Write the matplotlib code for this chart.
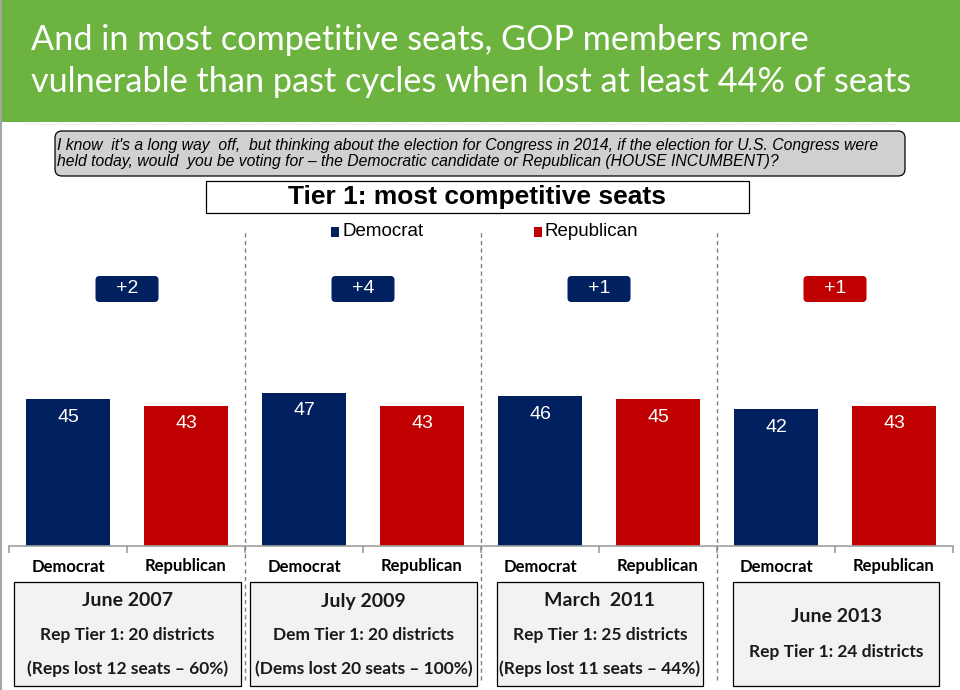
import matplotlib
matplotlib.use("Agg")
import matplotlib.pyplot as plt
from matplotlib.patches import FancyBboxPatch, Rectangle
from matplotlib import transforms
from matplotlib import font_manager as fm

# ---------------- data ----------------
periods = ["June 2007", "July 2009", "March 2011", "June 2013"]
dem_values = [45, 47, 46, 42]
rep_values = [43, 43, 45, 43]
party_labels = ["Democrat", "Republican"]
box_lines = [
    ["June 2007", "Rep Tier 1: 20 districts", "(Reps lost 12 seats \u2013 60%)"],
    ["July 2009", "Dem Tier 1: 20 districts", "(Dems lost 20 seats \u2013 100%)"],
    ["March  2011", "Rep Tier 1: 25 districts", "(Reps lost 11 seats \u2013 44%)"],
    ["June 2013", "Rep Tier 1: 24 districts"],
]
title_lines = ["And in most competitive seats, GOP members more",
               "vulnerable than past cycles when lost at least 44% of seats"]
question = ("I know  it's a long way  off,  but thinking about the election for Congress in 2014, if the election for U.S. Congress were\n"
            "held today, would  you be voting for \u2013 the Democratic candidate or Republican (HOUSE INCUMBENT)?")
chart_title = "Tier 1: most competitive seats"

DEM = "#002060"
REP = "#c00000"
GREEN = "#6db33f"

names = {f.name for f in fm.fontManager.ttflist}
narrow = "Liberation Sans Narrow" if "Liberation Sans Narrow" in names else "Liberation Sans"
cal = "Lato"

W, H = 960, 690
fig = plt.figure(figsize=(W / 100, H / 100), dpi=100)

def fx(x):
    return x / W

def fy(y):
    return 1 - y / H

# header
fig.patches.append(Rectangle((0, fy(122)), 1, 122 / H, transform=fig.transFigure,
                             facecolor=GREEN, edgecolor="none", zorder=0))
fig.text(fx(31), fy(40), title_lines[0], color="white", fontsize=24.7, family=cal,
         va="center", ha="left")
fig.text(fx(31), fy(82), title_lines[1], color="white", fontsize=24.7, family=cal,
         va="center", ha="left")
# left border line
fig.add_artist(plt.Line2D([fx(1), fx(1)], [0, 1], color="#a6a6a6", lw=1.5,
                          transform=fig.transFigure))
fig.add_artist(plt.Line2D([fx(25), fx(895)], [fy(124), fy(124)], color="#d8d8d8", lw=0.8,
                          ls=":", transform=fig.transFigure))

# question box
fig.patches.append(FancyBboxPatch((55, H - 176), 850, 45,
                                  boxstyle="round,pad=0,rounding_size=7",
                                  transform=None, facecolor="#d0d0d0",
                                  edgecolor="black", lw=0.9))
fig.text(fx(57), fy(153.5), question, fontsize=11.3, family=narrow, style="italic",
         va="center", ha="left", linespacing=1.1)

# chart title box
fig.patches.append(Rectangle((fx(206), fy(213)), fx(543), 32 / H, transform=fig.transFigure,
                             facecolor="white", edgecolor="black", lw=0.9))
fig.text(fx(477.5), fy(197), chart_title, fontsize=19, family=narrow, weight="bold",
         va="center", ha="center")

# legend
fig.patches.append(Rectangle((fx(331), fy(236.5)), fx(8), 10 / H, transform=fig.transFigure,
                             facecolor=DEM, edgecolor="none"))
fig.text(fx(342), fy(231.5), party_labels[0], fontsize=13.5, family=narrow, va="center")
fig.patches.append(Rectangle((fx(534), fy(236.5)), fx(8), 10 / H, transform=fig.transFigure,
                             facecolor=REP, edgecolor="none"))
fig.text(fx(545), fy(231.5), party_labels[1], fontsize=13.5, family=narrow, va="center")

# bars axes
ax = fig.add_axes([fx(9), fy(546), fx(944), 195.6 / H])
ax.set_xlim(-0.5, 7.5)
ax.set_ylim(0, 60)
ax.patch.set_alpha(0)
for s in ["top", "right", "left"]:
    ax.spines[s].set_visible(False)
ax.spines["bottom"].set_color("#a0a0a0")
ax.spines["bottom"].set_linewidth(1.2)
ax.set_yticks([])

xs_dem = [2 * i for i in range(len(periods))]
xs_rep = [2 * i + 1 for i in range(len(periods))]
bw = 0.71
ax.bar(xs_dem, dem_values, width=bw, color=DEM)
ax.bar(xs_rep, rep_values, width=bw, color=REP)
for x, v in list(zip(xs_dem, dem_values)) + list(zip(xs_rep, rep_values)):
    ax.annotate(str(v), (x, v), xytext=(0, -13), textcoords="offset points",
                ha="center", va="center", color="white", fontsize=14,
                family="Liberation Sans")

ax.set_xticks([i - 0.5 for i in range(len(periods) * 2 + 1)])
ax.set_xticklabels([])
ax.tick_params(axis="x", which="major", length=5, color="#a0a0a0", width=1.2, direction="out")
ax.set_xticks(xs_dem + xs_rep, minor=True)
ax.set_xticklabels([party_labels[0]] * len(periods) + [party_labels[1]] * len(periods),
                   minor=True, fontsize=12, family=cal, weight="bold")
ax.tick_params(axis="x", which="minor", length=0, pad=9)

blend = transforms.blended_transform_factory(ax.transData, fig.transFigure)

# separators
for i in range(1, len(periods)):
    xb = 2 * i - 0.5
    ax.add_artist(plt.Line2D([xb, xb], [fy(680), fy(232)], transform=blend, color="#808080",
                             lw=1, ls=(0, (3, 2.5)), clip_on=False))

# difference boxes (drawn in display pixels, centred via the axes data transform)
for i, (d, r) in enumerate(zip(dem_values, rep_values)):
    diff = d - r
    col = DEM if diff >= 0 else REP
    cx = 2 * i + 0.5
    cx_px = ax.transData.transform((cx, 0))[0]
    p = FancyBboxPatch((cx_px - 31.5, H - 302), 63, 26,
                       boxstyle="round,pad=0,rounding_size=4", transform=None,
                       facecolor=col, edgecolor="none", clip_on=False)
    fig.patches.append(p)
    fig.text(cx, fy(289), "+%d" % abs(diff), transform=blend, ha="center", va="center",
             color="white", fontsize=14, family="Liberation Sans")

# bottom boxes
boxes_px = [(14, 241), (250, 477), (497, 703), (733, 939)]
for (x0, x1), lines in zip(boxes_px, box_lines):
    fig.patches.append(Rectangle((fx(x0), fy(686)), fx(x1 - x0), 104 / H,
                                 transform=fig.transFigure, facecolor="#f2f2f2",
                                 edgecolor="black", lw=0.9))
    cx = fx((x0 + x1) / 2)
    if len(lines) == 3:
        ys = [601, 635, 669]
        sizes = [14, 12.5, 12.5]
    else:
        ys = [617, 652]
        sizes = [14, 12.5]
    for t, yy, sz in zip(lines, ys, sizes):
        fig.text(cx, fy(yy), t, ha="center", va="center", fontsize=sz, family=cal,
                 weight="bold", color="#1a1a1a")

fig.savefig("out.png", dpi=100)
